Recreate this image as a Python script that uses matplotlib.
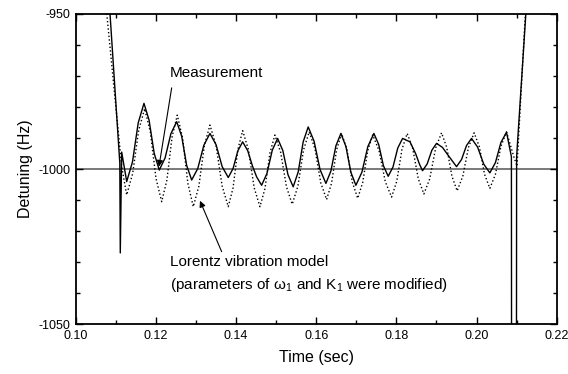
import matplotlib
matplotlib.use('Agg')
import matplotlib.pyplot as plt
from matplotlib.ticker import MultipleLocator

plt.rcParams['font.family'] = ['Liberation Sans', 'DejaVu Sans']
plt.rcParams['mathtext.fontset'] = 'custom'
plt.rcParams['mathtext.rm'] = 'Liberation Sans'
plt.rcParams['mathtext.it'] = 'Liberation Sans:italic'
plt.rcParams['axes.unicode_minus'] = False

# ── data (time in s, detuning in Hz)
meas_t = [0.1080, 0.1110, 0.11112, 0.11147, 0.11272, 0.11416, 0.11559, 0.11703,
          0.11830, 0.11958, 0.12085, 0.12230, 0.12374, 0.12519, 0.12644, 0.12768,
          0.12893, 0.13045, 0.13197, 0.13349, 0.13501, 0.13654, 0.13806, 0.13926,
          0.14045, 0.14165, 0.14290, 0.14410, 0.14514, 0.14638, 0.14771, 0.14904,
          0.15037, 0.15167, 0.15296, 0.15426, 0.15551, 0.15675, 0.15800, 0.15947,
          0.16095, 0.16242, 0.16367, 0.16491, 0.16616, 0.16741, 0.16865, 0.16990,
          0.17140, 0.17289, 0.17439, 0.17558, 0.17677, 0.17796, 0.17916, 0.18035,
          0.18155, 0.18340, 0.18480, 0.18580, 0.18653, 0.18769, 0.18886, 0.19002,
          0.19150, 0.19290, 0.19501, 0.19626, 0.19750, 0.19875, 0.20027, 0.20180,
          0.20332, 0.20471, 0.20609, 0.20748, 0.20870, 0.20875, 0.20995, 0.21000,
          0.21280]
meas_y = [-939, -998, -1027, -994.5, -1004.0, -997.7, -985.1, -978.8,
          -984.2, -994.9, -1000.3, -996.4, -988.6, -984.7, -989.4, -998.8,
          -1003.5, -999.8, -992.3, -988.5, -992.1, -999.2, -1002.7, -999.8,
          -994.1, -991.2, -994.0, -999.0, -1002.5, -1005.2, -1001.4, -993.9,
          -990.1, -994.0, -1001.8, -1005.7, -1000.9, -991.2, -986.4, -991.0,
          -1000.1, -1004.6, -1000.6, -992.5, -988.5, -992.7, -1001.0, -1005.2,
          -1001.0, -992.7, -988.5, -992.0, -998.9, -1002.3, -999.3, -993.2,
          -990.1, -991.2, -995.0, -998.5, -1000.5, -998.3, -993.9, -991.7,
          -993.0, -995.5, -999.2, -996.9, -992.4, -990.1, -992.9, -998.4,
          -1001.2, -997.9, -991.4, -988.1, -996.0, -1080, -1080, -996.0,
          -940]

model_t = [0.1070, 0.11147, 0.11272, 0.11421, 0.11571, 0.11720, 0.11862, 0.12003,
           0.12145, 0.12275, 0.12404, 0.12534, 0.12667, 0.12800, 0.12933, 0.13072,
           0.13210, 0.13349, 0.13501, 0.13654, 0.13806, 0.13926, 0.14045, 0.14165,
           0.14309, 0.14452, 0.14596, 0.14721, 0.14845, 0.14970, 0.15114, 0.15258,
           0.15402, 0.15543, 0.15684, 0.15825, 0.15970, 0.16114, 0.16259, 0.16384,
           0.16508, 0.16633, 0.16767, 0.16901, 0.17035, 0.17160, 0.17285, 0.17410,
           0.17567, 0.17723, 0.17880, 0.18010, 0.18140, 0.18270, 0.18409, 0.18547,
           0.18686, 0.18833, 0.18980, 0.19127, 0.19257, 0.19386, 0.19516, 0.19657,
           0.19799, 0.19940, 0.20071, 0.20201, 0.20332, 0.20471, 0.20609, 0.20748,
           0.20930, 0.21010, 0.21260]
model_y = [-940, -999.2, -1008.3, -1001.4, -987.5, -980.5, -988.0, -1003.0,
           -1010.5, -1003.5, -989.6, -982.6, -990.0, -1004.7, -1012.1, -1005.5,
           -992.4, -985.8, -992.4, -1005.5, -1012.1, -1006.0, -993.7, -987.6,
           -993.7, -1006.0, -1012.1, -1006.3, -994.8, -989.0, -994.6, -1005.7,
           -1011.3, -1005.5, -993.8, -988.0, -993.5, -1004.4, -1009.8, -1004.5,
           -993.8, -988.5, -993.7, -1004.2, -1009.4, -1004.3, -994.1, -989.0,
           -994.0, -1004.0, -1009.0, -1003.9, -993.6, -988.5, -993.4, -1003.1,
           -1008.0, -1003.1, -993.2, -988.3, -993.0, -1002.3, -1007.0, -1002.3,
           -993.0, -988.3, -992.8, -1001.7, -1006.2, -1001.7, -992.6, -988.0,
           -996.0, -999.0, -940]

ref_level = -1000
x_ticks = [0.10, 0.12, 0.14, 0.16, 0.18, 0.20, 0.22]
y_ticks = [-1050, -1000, -950]

# ──────────────────────────────────────── figure
fig = plt.figure(figsize=(5.68, 3.74), dpi=100)
ax = fig.add_axes([0.1333, 0.1329, 0.8468, 0.8297])

ax.axhline(ref_level, color='#555555', lw=1.1, zorder=1)
ax.plot(model_t, model_y, color='black', lw=1.0, ls=':', zorder=2)
ax.plot(meas_t, meas_y, color='black', lw=1.0, zorder=3)

ax.set_xlim(0.10, 0.22)
ax.set_ylim(-1050, -950)
ax.set_xticks(x_ticks)
ax.set_xticklabels([f'{v:.2f}' for v in x_ticks])
ax.set_yticks(y_ticks)
ax.xaxis.set_minor_locator(MultipleLocator(0.01))
ax.yaxis.set_minor_locator(MultipleLocator(10))
ax.tick_params(which='both', direction='in', top=True, right=True,
               width=1.0, labelsize=9, colors='black')
ax.tick_params(which='major', length=5, pad=4)
ax.tick_params(which='minor', length=3)
for sp in ax.spines.values():
    sp.set_linewidth(1.3)

ax.set_xlabel('Time (sec)', fontsize=11.5, labelpad=6)
ax.set_ylabel('Detuning (Hz)', fontsize=11.5, labelpad=4)

# annotations
arrow = dict(arrowstyle='-|>', color='black', lw=0.8,
             mutation_scale=9, shrinkA=0, shrinkB=0)
ax.annotate('', xy=(0.12077, -999.2), xytext=(0.12394, -973.8),
            arrowprops=arrow)
ax.text(0.12352, -969.0, 'Measurement', fontsize=11, va='center', ha='left')

ax.annotate('', xy=(0.13100, -1010.2), xytext=(0.13641, -1026.6),
            arrowprops=arrow)
ax.text(0.12352, -1029.8, 'Lorentz vibration model', fontsize=11,
        va='center', ha='left')
ax.text(0.12352, -1037.4,
        '(parameters of ω$_1$ and K$_1$ were modified)', fontsize=11,
        va='center', ha='left')

fig.savefig('out.png', dpi=100)
